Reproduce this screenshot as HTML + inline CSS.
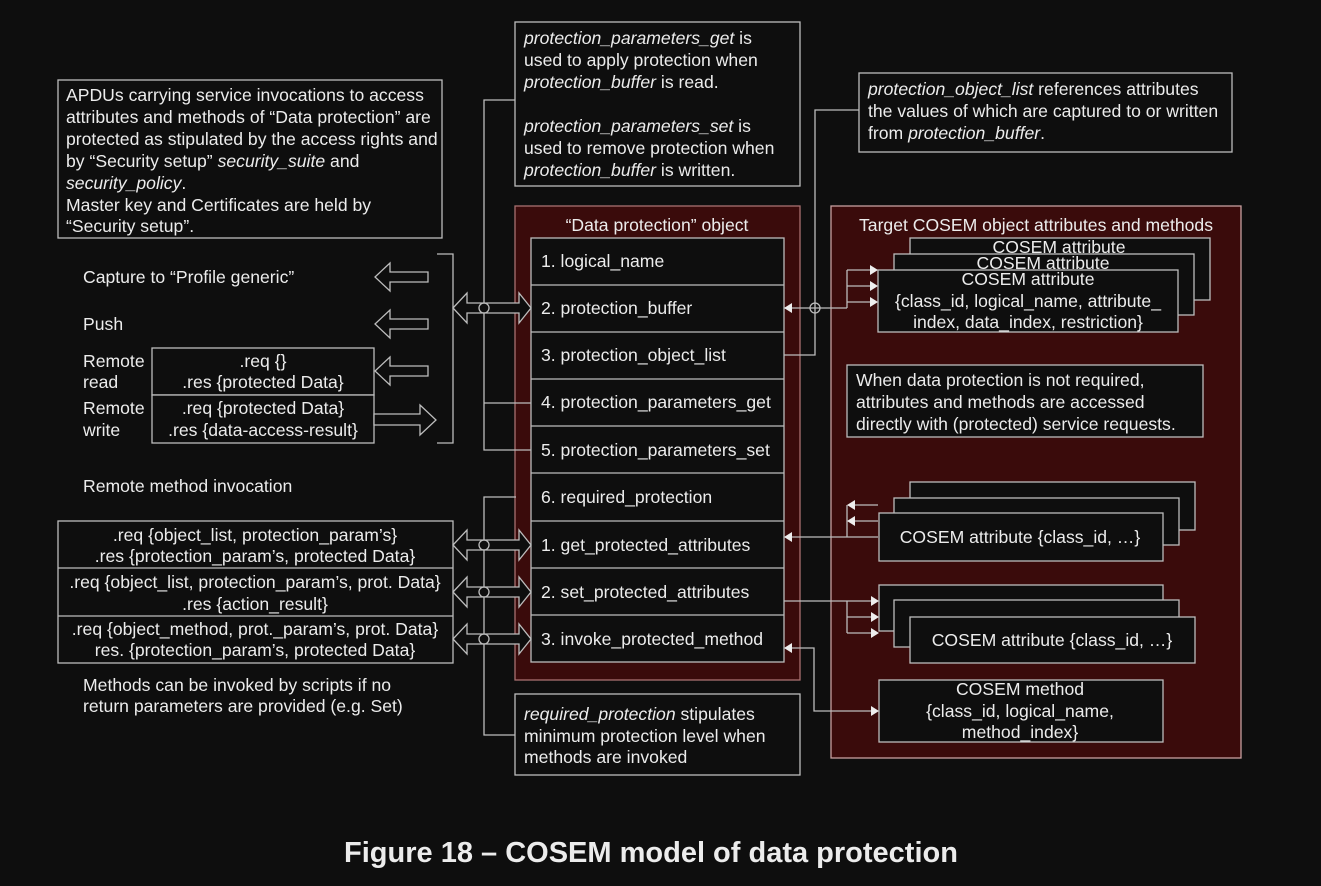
<!DOCTYPE html>
<html><head><meta charset="utf-8">
<style>
html,body{margin:0;padding:0;background:#0e0e0e;}
svg{display:block;}
text{font-family:"Liberation Sans",Arial,sans-serif;font-size:17.6px;fill:#ececec;}
.i{font-style:italic;}
</style></head><body>
<svg width="1321" height="886" viewBox="0 0 1321 886" xmlns="http://www.w3.org/2000/svg">
<rect width="1321" height="886" fill="#0e0e0e"/>
<g stroke="#bdbdbd" stroke-width="1.3" fill="none">
<rect x="58" y="80" width="384" height="158" fill="#0e0e0e"/>
<rect x="515" y="22" width="285" height="164" fill="#0e0e0e"/>
<rect x="859" y="73" width="373" height="79" fill="#0e0e0e"/>
<rect x="515" y="206" width="285" height="474" fill="#3a0b0b" stroke="#a87070"/>
<rect x="831" y="206" width="410" height="552" fill="#3a0b0b" stroke="#c8a0a0"/>
<rect x="531" y="238" width="253" height="424" fill="#0e0e0e"/>
<path d="M531 285H784M531 332H784M531 379H784M531 426H784M531 473H784M531 521H784M531 568H784M531 615H784"/>
<rect x="910" y="238" width="300" height="62" fill="#0e0e0e"/>
<rect x="894" y="254" width="300" height="61" fill="#0e0e0e"/>
<rect x="878" y="270" width="300" height="62" fill="#0e0e0e"/>
<rect x="847" y="365" width="356" height="72" fill="#0e0e0e"/>
<rect x="910" y="482" width="285" height="48" fill="#0e0e0e"/>
<rect x="894" y="498" width="285" height="47" fill="#0e0e0e"/>
<rect x="879" y="513" width="284" height="48" fill="#0e0e0e"/>
<rect x="879" y="585" width="284" height="46" fill="#0e0e0e"/>
<rect x="894" y="600" width="285" height="47" fill="#0e0e0e"/>
<rect x="910" y="617" width="285" height="46" fill="#0e0e0e"/>
<rect x="879" y="680" width="284" height="62" fill="#0e0e0e"/>
<rect x="515" y="694" width="285" height="81" fill="#0e0e0e"/>
<rect x="152" y="348" width="222" height="47" fill="#0e0e0e"/>
<rect x="152" y="395" width="222" height="48" fill="#0e0e0e"/>
<rect x="58" y="521" width="395" height="142" fill="#0e0e0e"/>
<path d="M58 568H453M58 616H453"/>
<path d="M437 254H453V443H437"/>
<path d="M515 100H484V450H531M484 403H531"/>
<path d="M516 497H484V735H515"/>
<path d="M784 355H815V110H859"/>
<path d="M784 308H847M847 270V308M847 270H872M847 286H872M847 302H872"/>
<path d="M878 505H853M878 521H853M878 537H790M847 505V537"/>
<path d="M784 601H872M847 601V633M847 617H872M847 633H872"/>
<path d="M790 648H814V711H872"/>
<polygon points="375,277 390,263 390,272 428,272 428,282 390,282 390,291" fill="#0e0e0e"/>
<polygon points="375,324 390,310 390,319 428,319 428,329 390,329 390,338" fill="#0e0e0e"/>
<polygon points="375,371 390,357 390,366 428,366 428,376 390,376 390,385" fill="#0e0e0e"/>
<polygon points="374,414 420,414 420,405 436,420 420,435 420,425 374,425" fill="#0e0e0e"/>
<g fill="#0e0e0e">
<polygon points="453,308 467,293 467,303 519,303 519,293 531,308 519,323 519,313 467,313 467,323"/>
<polygon points="453,545 467,530 467,540 519,540 519,530 531,545 519,560 519,550 467,550 467,560"/>
<polygon points="453,592 467,577 467,587 519,587 519,577 531,592 519,607 519,597 467,597 467,607"/>
<polygon points="453,639 467,624 467,634 519,634 519,624 531,639 519,654 519,644 467,644 467,654"/>
</g>
<circle cx="484" cy="308" r="5"/>
<circle cx="484" cy="545" r="5"/>
<circle cx="484" cy="592" r="5"/>
<circle cx="484" cy="639" r="5"/>
<circle cx="815" cy="308" r="5"/>
</g>
<g fill="#eeeeee">
<polygon points="784,308 792,303 792,313"/>
<polygon points="878,270 870,265 870,275"/>
<polygon points="878,286 870,281 870,291"/>
<polygon points="878,302 870,297 870,307"/>
<polygon points="847,505 855,500 855,510"/>
<polygon points="847,521 855,516 855,526"/>
<polygon points="784,537 792,532 792,542"/>
<polygon points="879,601 871,596 871,606"/>
<polygon points="879,617 871,612 871,622"/>
<polygon points="879,633 871,628 871,638"/>
<polygon points="784,648 792,643 792,653"/>
<polygon points="879,711 871,706 871,716"/>
</g>
<text x="66" y="101">APDUs carrying service invocations to access</text>
<text x="66" y="123">attributes and methods of “Data protection” are</text>
<text x="66" y="145">protected as stipulated by the access rights and</text>
<text x="66" y="167">by “Security setup” <tspan class="i">security_suite</tspan> and</text>
<text x="66" y="189"><tspan class="i">security_policy</tspan>.</text>
<text x="66" y="211">Master key and Certificates are held by</text>
<text x="66" y="232">“Security setup”.</text>

<text x="524" y="44"><tspan class="i">protection_parameters_get</tspan> is</text>
<text x="524" y="66">used to apply protection when</text>
<text x="524" y="88"><tspan class="i">protection_buffer</tspan> is read.</text>
<text x="524" y="132"><tspan class="i">protection_parameters_set</tspan> is</text>
<text x="524" y="154">used  to remove protection when</text>
<text x="524" y="176"><tspan class="i">protection_buffer</tspan> is written.</text>

<text x="868" y="95"><tspan class="i">protection_object_list</tspan> references attributes</text>
<text x="868" y="117">the values of which are captured to or written</text>
<text x="868" y="139">from <tspan class="i">protection_buffer</tspan>.</text>

<text x="657" y="231" text-anchor="middle">“Data protection” object</text>
<text x="541" y="267">1. logical_name</text>
<text x="541" y="314">2. protection_buffer</text>
<text x="541" y="361">3. protection_object_list</text>
<text x="541" y="408">4. protection_parameters_get</text>
<text x="541" y="456">5. protection_parameters_set</text>
<text x="541" y="503">6. required_protection</text>
<text x="541" y="551">1. get_protected_attributes</text>
<text x="541" y="598">2. set_protected_attributes</text>
<text x="541" y="645">3. invoke_protected_method</text>

<text x="1036" y="231" text-anchor="middle">Target COSEM object attributes and methods</text>
<text x="1059" y="253" text-anchor="middle">COSEM attribute</text>
<text x="1043" y="269" text-anchor="middle">COSEM attribute</text>
<text x="1028" y="285" text-anchor="middle">COSEM attribute</text>
<text x="1028" y="307" text-anchor="middle">{class_id, logical_name, attribute_</text>
<text x="1028" y="328" text-anchor="middle">index, data_index, restriction}</text>
<text x="856" y="386">When data protection is not required,</text>
<text x="856" y="408">attributes and methods are accessed</text>
<text x="856" y="430">directly with (protected) service requests.</text>
<text x="1020" y="543" text-anchor="middle">COSEM attribute {class_id, …}</text>
<text x="1052" y="646" text-anchor="middle">COSEM attribute {class_id, …}</text>
<text x="1020" y="695" text-anchor="middle">COSEM method</text>
<text x="1020" y="717" text-anchor="middle">{class_id, logical_name,</text>
<text x="1020" y="738" text-anchor="middle">method_index}</text>

<text x="524" y="720"><tspan class="i">required_protection</tspan> stipulates</text>
<text x="524" y="742">minimum protection level when</text>
<text x="524" y="763">methods are invoked</text>

<text x="83" y="283">Capture to “Profile generic”</text>
<text x="83" y="330">Push</text>
<text x="83" y="367">Remote</text>
<text x="83" y="388">read</text>
<text x="83" y="414">Remote</text>
<text x="83" y="436">write</text>
<text x="263" y="367" text-anchor="middle">.req {}</text>
<text x="263" y="388" text-anchor="middle">.res {protected Data}</text>
<text x="263" y="414" text-anchor="middle">.req {protected Data}</text>
<text x="263" y="436" text-anchor="middle">.res {data-access-result}</text>
<text x="83" y="492">Remote method invocation</text>
<text x="255" y="541" text-anchor="middle">.req {object_list, protection_param’s}</text>
<text x="255" y="562" text-anchor="middle">.res {protection_param’s, protected Data}</text>
<text x="255" y="588" text-anchor="middle">.req {object_list, protection_param’s, prot. Data}</text>
<text x="255" y="610" text-anchor="middle">.res {action_result}</text>
<text x="255" y="635" text-anchor="middle">.req {object_method, prot._param’s, prot. Data}</text>
<text x="255" y="656" text-anchor="middle">res. {protection_param’s, protected Data}</text>
<text x="83" y="691">Methods can be invoked by scripts if no</text>
<text x="83" y="712">return parameters are provided (e.g. Set)</text>

<text x="651" y="862" text-anchor="middle" style="font-size:29px;font-weight:bold;">Figure 18 – COSEM model of data protection</text>
</svg>
</body></html>
